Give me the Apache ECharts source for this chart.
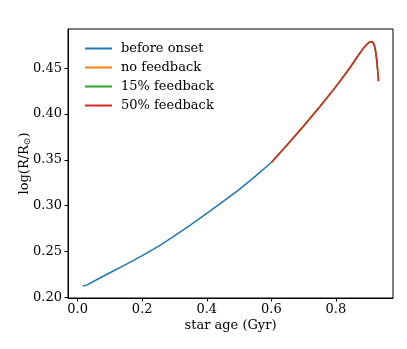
<!DOCTYPE html>
<html>
<head>
<meta charset="utf-8">
<script src="https://cdn.jsdelivr.net/npm/echarts@6/dist/echarts.min.js"></script>
<style>
  html, body { margin: 0; padding: 0; background: #fff; }
  #chart { width: 407px; height: 349px; }
</style>
</head>
<body>
<div id="chart"></div>
<script>
  // ages (Gyr) and log radius before feedback onset
  const preAge = [0.016, 0.025, 0.05, 0.1, 0.15, 0.2, 0.25, 0.3, 0.35, 0.4, 0.45, 0.5, 0.55, 0.6]
  const preLogR = [0.2125, 0.2128, 0.2175, 0.2268, 0.236, 0.2455, 0.2555, 0.267, 0.279, 0.2915, 0.3045, 0.3175, 0.332, 0.3472]

  // after onset, the three feedback runs lie on top of each other
  const postAge = [0.6, 0.65, 0.7, 0.75, 0.8, 0.84, 0.87, 0.885, 0.895, 0.902, 0.908, 0.913, 0.917, 0.921, 0.924, 0.927, 0.929, 0.931, 0.932]
  const noFeedback = [0.3472, 0.3668, 0.387, 0.408, 0.430, 0.449, 0.4645, 0.4718, 0.4757, 0.4782, 0.4795, 0.4792, 0.477, 0.4725, 0.466, 0.457, 0.449, 0.440, 0.436]
  const feedback15 = [0.3472, 0.3668, 0.387, 0.408, 0.430, 0.449, 0.4645, 0.4718, 0.4757, 0.4782, 0.4795, 0.4792, 0.477, 0.4725, 0.466, 0.457, 0.449, 0.440, 0.436]
  const feedback50 = [0.3472, 0.3668, 0.387, 0.408, 0.430, 0.449, 0.4645, 0.4718, 0.4757, 0.4782, 0.4795, 0.4792, 0.477, 0.4725, 0.466, 0.457, 0.449, 0.440, 0.436]

  const xTicks = [0.0, 0.2, 0.4, 0.6, 0.8]
  const yTicks = [0.20, 0.25, 0.30, 0.35, 0.40, 0.45]

  const font = 'DejaVu Serif'
  const zip = (xs, ys) => xs.map((x, i) => [x, ys[i]])

  const lineSeries = (name, color, xs, ys) => ({
    name: name,
    type: 'line',
    data: zip(xs, ys),
    showSymbol: false,
    lineStyle: { color: color, width: 1.5 },
    itemStyle: { color: color },
    animation: false
  })

  const chart = echarts.init(document.getElementById('chart'))
  chart.setOption({
    animation: false,
    grid: {
      left: 68, right: 14, top: 29, bottom: 51,
      show: true, borderColor: '#000', borderWidth: 1
    },
    legend: {
      orient: 'vertical',
      left: 80,
      top: 36,
      icon: 'rect',
      itemWidth: 27,
      itemHeight: 2,
      itemGap: 4,
      textStyle: { fontFamily: font, fontSize: 13, color: '#000', lineHeight: 15, padding: [0, 0, 0, 4] },
      data: ['before onset', 'no feedback', '15% feedback', '50% feedback']
    },
    xAxis: {
      type: 'value',
      min: -0.0298,
      max: 0.9768,
      name: 'star age (Gyr)',
      nameLocation: 'middle',
      nameGap: 21,
      nameMoveOverlap: false,
      nameTextStyle: { fontFamily: font, fontSize: 13, color: '#000' },
      splitLine: { show: false },
      axisLine: { show: true, onZero: false, lineStyle: { color: '#000' } },
      axisTick: { show: true, length: 3.5, customValues: xTicks, lineStyle: { color: '#000' } },
      axisLabel: {
        customValues: xTicks, margin: 5,
        fontFamily: font, fontSize: 13, color: '#000',
        formatter: v => v.toFixed(1)
      }
    },
    yAxis: {
      type: 'value',
      min: 0.1992,
      max: 0.4929,
      name: 'log(R/R{s|⊙})',
      nameLocation: 'middle',
      nameGap: 36,
      nameMoveOverlap: false,
      nameTextStyle: {
        fontFamily: font, fontSize: 13, color: '#000',
        rich: { s: { fontFamily: font, fontSize: 9, color: '#000', padding: [6, 0, 0, 0] } }
      },
      splitLine: { show: false },
      axisLine: { show: true, onZero: false, lineStyle: { color: '#000' } },
      axisTick: { show: true, length: 3.5, customValues: yTicks, lineStyle: { color: '#000' } },
      axisLabel: {
        customValues: yTicks, margin: 6,
        fontFamily: font, fontSize: 13, color: '#000',
        formatter: v => v.toFixed(2)
      }
    },
    series: [
      lineSeries('before onset', '#1f77b4', preAge, preLogR),
      lineSeries('no feedback', '#ff7f0e', postAge, noFeedback),
      lineSeries('15% feedback', '#2ca02c', postAge, feedback15),
      lineSeries('50% feedback', '#d62728', postAge, feedback50)
    ]
  })
</script>
</body>
</html>
